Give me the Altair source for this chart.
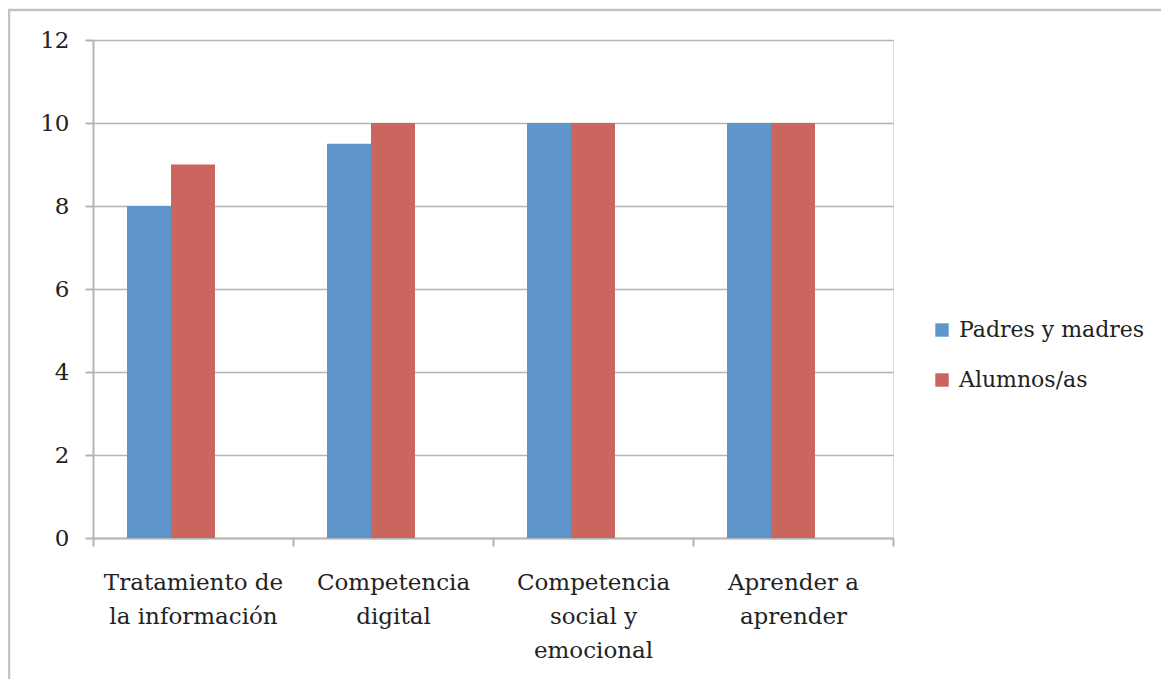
import altair as alt
import pandas as pd

categories = ["Tratamiento de|la información", "Competencia|digital",
              "Competencia|social y|emocional", "Aprender a|aprender"]
series = ["Padres y madres", "Alumnos/as"]
padres = [8, 9.5, 10, 10]
alumnos = [9, 10, 10, 10]
colors = ["#5E95CB", "#CB6560"]

rows = []
for c, p, a in zip(categories, padres, alumnos):
    rows.append({"cat": c, "serie": series[0], "valor": p})
    rows.append({"cat": c, "serie": series[1], "valor": a})
df = pd.DataFrame(rows)

FONT = "DejaVu Serif"
W, H = 800, 498

bars = alt.Chart(df).mark_bar().encode(
    x=alt.X("cat:N", sort=categories, title=None,
            scale=alt.Scale(paddingInner=0, paddingOuter=0),
            axis=alt.Axis(labelAngle=0, tickBand="extent", labelExpr="split(datum.label, '|')",
                          labelLineHeight=34, labelFontSize=23, labelFont=FONT, labelColor="#222222",
                          domainColor="#b5b5b5", domainWidth=2, tickColor="#b5b5b5", tickWidth=2,
                          tickSize=8, labelPadding=25, grid=False)),
    xOffset=alt.XOffset("serie:N",
                        scale=alt.Scale(domain=series + ["_"], paddingInner=0, paddingOuter=0.773)),
    y=alt.Y("valor:Q", title=None,
            scale=alt.Scale(domain=[0, 12], nice=False),
            axis=alt.Axis(values=[0, 2, 4, 6, 8, 10, 12], labelFontSize=23, labelFont=FONT,
                          labelColor="#222222", domainColor="#b5b5b5", domainWidth=2,
                          tickColor="#b5b5b5", tickWidth=2, tickSize=8, labelPadding=16,
                          gridColor="#b5b5b5", gridWidth=1.5)),
    color=alt.Color("serie:N", scale=alt.Scale(domain=series, range=colors),
                    legend=alt.Legend(title=None, orient="none", legendX=838, legendY=279,
                                      symbolType="square", symbolSize=180, symbolStrokeWidth=0,
                                      labelFontSize=22, labelFont=FONT, labelColor="#222222",
                                      labelLimit=0, rowPadding=28, labelOffset=6)),
)

frame_df = pd.DataFrame({"a": [0]})
frame = alt.Chart(frame_df).mark_rect(fill=None, stroke="#c2c2c2", strokeWidth=2.5).encode(
    x=alt.value(-84), x2=alt.value(1169 - 93 + 20),
    y=alt.value(-30), y2=alt.value(687 - 40 + 20),
)

chart = alt.layer(frame, bars).properties(
    width=W, height=H,
    autosize=alt.AutoSizeParams(type="none"),
    padding={"left": 85, "top": 32, "right": 268, "bottom": 141},
).configure_view(stroke=None).configure(background="white")

chart.save("out.html", embed_options={"renderer": "svg", "actions": False})
